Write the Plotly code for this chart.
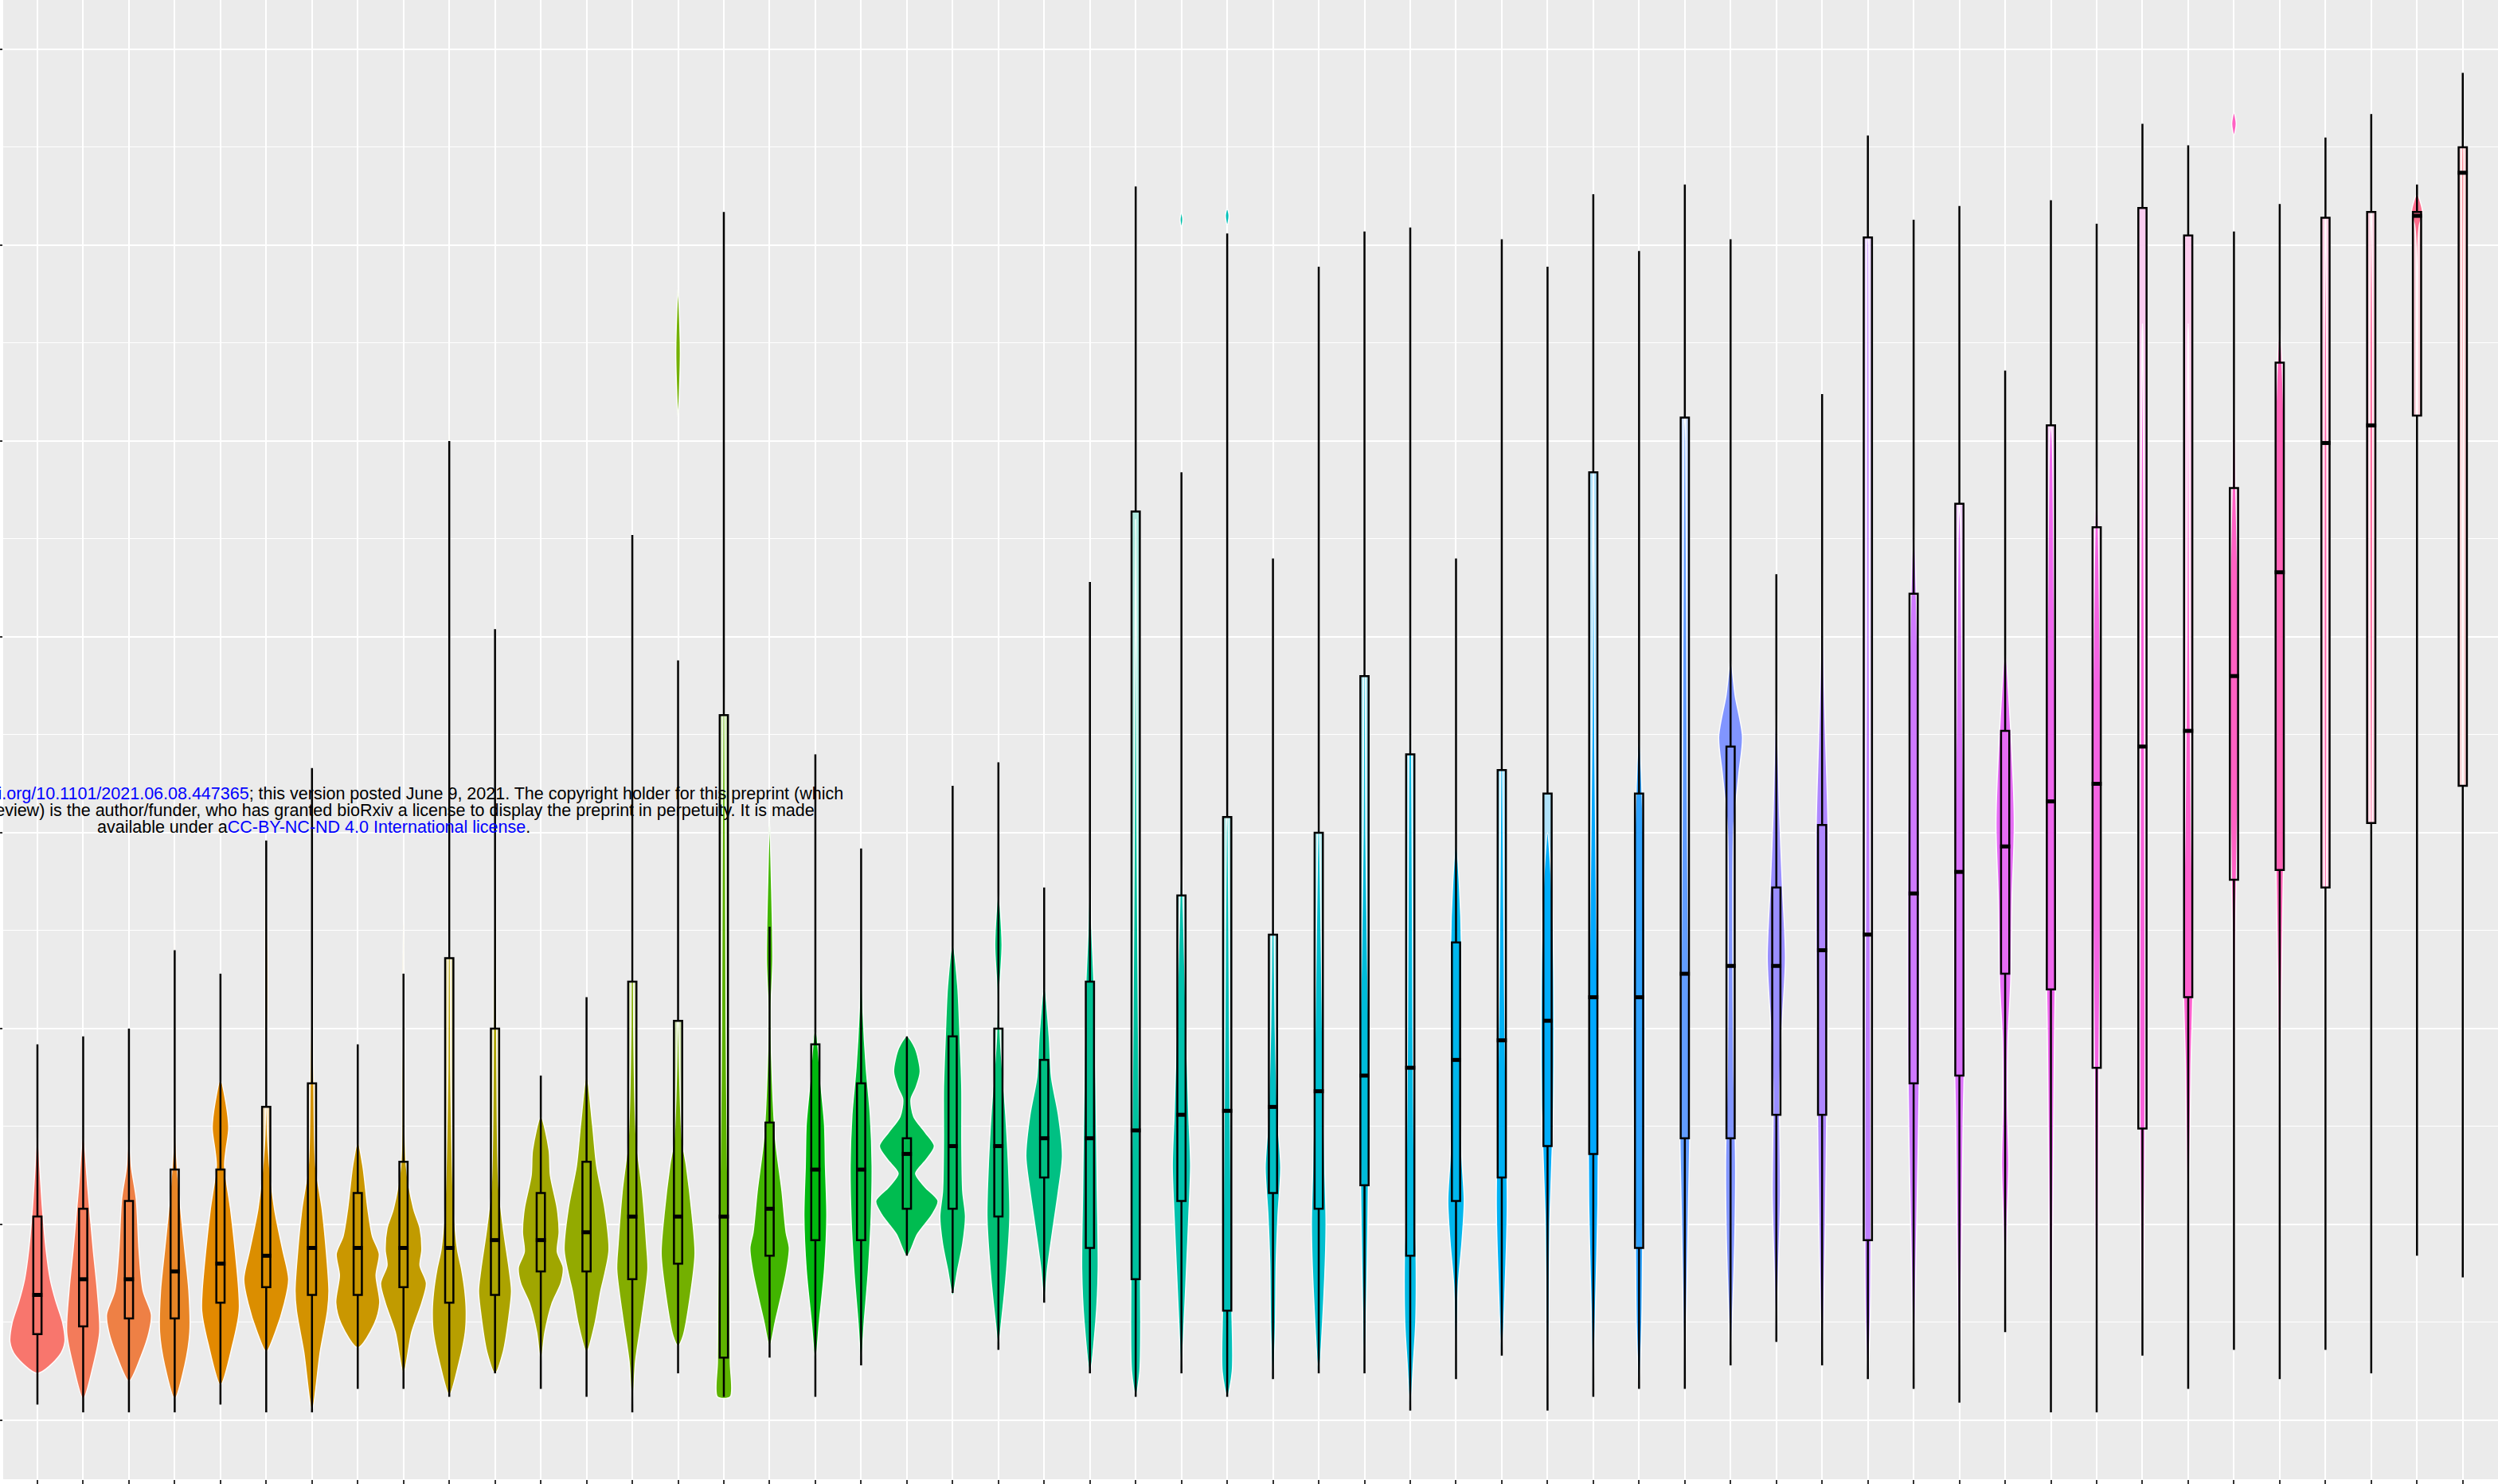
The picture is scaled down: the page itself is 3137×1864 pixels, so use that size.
import math
import plotly.graph_objects as go

# ---------------- data (major gridlines = 0..7) -------------
CATS = list(range(54))

upper_whisker = [1.92, 1.96, 2.00, 2.40, 2.28, 2.96, 3.33, 1.92, 2.28, 5.00,
                 4.04, 1.76, 2.16, 4.52, 3.88, 6.17, 2.52, 3.40, 2.92, 1.96,
                 3.24, 3.36, 2.72, 4.28, 6.30, 4.84, 6.06, 4.40, 5.89, 6.07,
                 6.09, 4.40, 6.03, 5.89, 6.26, 5.97, 6.31, 6.03, 4.32, 5.24,
                 6.56, 6.13, 6.20, 5.36, 6.23, 6.11, 6.62, 6.51, 6.07, 6.21,
                 6.55, 6.67, 6.31, 6.88]
q3 = [1.04, 1.08, 1.12, 1.28, 1.28, 1.60, 1.72, 1.16, 1.32, 2.36,
      2.00, 1.16, 1.32, 2.24, 2.04, 3.60, 1.52, 1.92, 1.72, 1.44,
      1.96, 2.00, 1.84, 2.24, 4.64, 2.68, 3.08, 2.48, 3.00, 3.80,
      3.40, 2.44, 3.32, 3.20, 4.84, 3.20, 5.12, 3.44, 2.72, 3.04,
      6.04, 4.22, 4.68, 3.52, 5.08, 4.56, 6.19, 6.05, 4.76, 5.40,
      6.14, 6.17, 6.17, 6.50]
median = [0.64, 0.72, 0.72, 0.76, 0.80, 0.84, 0.88, 0.88, 0.88, 0.88,
          0.92, 0.92, 0.96, 1.04, 1.04, 1.04, 1.08, 1.28, 1.28, 1.36,
          1.40, 1.40, 1.44, 1.44, 1.48, 1.56, 1.58, 1.60, 1.68, 1.76,
          1.80, 1.84, 1.94, 2.04, 2.16, 2.16, 2.28, 2.32, 2.32, 2.40,
          2.48, 2.69, 2.80, 2.93, 3.16, 3.25, 3.44, 3.52, 3.80, 4.33,
          4.99, 5.08, 6.15, 6.37]
q1 = [0.44, 0.48, 0.52, 0.52, 0.60, 0.68, 0.64, 0.64, 0.68, 0.60,
      0.64, 0.76, 0.76, 0.72, 0.80, 0.32, 0.84, 0.92, 0.92, 1.08,
      1.08, 1.04, 1.24, 0.88, 0.72, 1.12, 0.56, 1.16, 1.08, 1.20,
      0.84, 1.12, 1.24, 1.40, 1.36, 0.88, 1.44, 1.44, 1.56, 1.56,
      0.92, 1.72, 1.76, 2.28, 2.20, 1.80, 1.49, 2.16, 2.76, 2.81,
      2.72, 3.05, 5.13, 3.24]
lower_whisker = [0.08, 0.04, 0.04, 0.04, 0.08, 0.04, 0.04, 0.16, 0.16, 0.12,
                 0.24, 0.16, 0.12, 0.04, 0.24, 0.12, 0.32, 0.12, 0.28, 0.84,
                 0.65, 0.36, 0.60, 0.24, 0.12, 0.24, 0.12, 0.21, 0.24, 0.24,
                 0.05, 0.21, 0.33, 0.05, 0.12, 0.16, 0.16, 0.28, 0.40, 0.28,
                 0.21, 0.16, 0.09, 0.45, 0.04, 0.04, 0.33, 0.16, 0.36, 0.21,
                 0.36, 0.24, 0.84, 0.73]

# violin density profiles: per group, list of pieces; each piece = (value, half-width) top -> bottom
violin_profiles = [
    [[(1.51, 0), (1.30, 0.05), (1.08, 0.11), (0.87, 0.19), (0.72, 0.28), (0.61, 0.40), (0.50, 0.55), (0.40, 0.60), (0.33, 0.48), (0.24, 0)]],
    [[(1.46, 0), (1.19, 0.10), (0.87, 0.22), (0.66, 0.31), (0.45, 0.36), (0.28, 0.22), (0.11, 0)]],
    [[(1.53, 0), (1.30, 0.05), (1.13, 0.16), (0.87, 0.22), (0.66, 0.31), (0.54, 0.49), (0.45, 0.44), (0.33, 0.27), (0.20, 0)]],
    [[(2.55, 0), (2.20, 0.01), (1.40, 0.03), (1.08, 0.13), (0.87, 0.22), (0.66, 0.31), (0.45, 0.33), (0.28, 0.22), (0.11, 0)]],
    [[(1.74, 0), (1.62, 0.12), (1.49, 0.18), (1.38, 0.12), (1.30, 0.09), (1.08, 0.22), (0.87, 0.32), (0.66, 0.40), (0.56, 0.41), (0.39, 0.27), (0.18, 0)]],
    [[(2.95, 0), (2.40, 0.03), (2.10, 0.03), (1.70, 0.01), (1.40, 0.04), (1.08, 0.18), (0.87, 0.36), (0.72, 0.49), (0.60, 0.40), (0.45, 0.20), (0.35, 0)]],
    [[(2.50, 0), (1.72, 0.04), (1.30, 0.08), (1.08, 0.22), (0.87, 0.31), (0.66, 0.37), (0.56, 0.34), (0.35, 0.18), (0.05, 0)]],
    [[(1.42, 0), (1.30, 0.11), (1.08, 0.22), (0.94, 0.32), (0.85, 0.47), (0.74, 0.40), (0.60, 0.48), (0.49, 0.36), (0.37, 0)]],
    [[(2.56, 0), (1.80, 0.03), (1.30, 0.06), (1.08, 0.22), (0.98, 0.36), (0.87, 0.40), (0.79, 0.36), (0.70, 0.50), (0.60, 0.40), (0.45, 0.18), (0.24, 0)]],
    [[(5.10, 0), (3.00, 0.02), (1.80, 0.03), (1.08, 0.10), (0.87, 0.18), (0.77, 0.27), (0.66, 0.34), (0.56, 0.37), (0.45, 0.35), (0.30, 0.22), (0.13, 0)]],
    [[(4.05, 0), (2.80, 0.02), (1.80, 0.04), (1.20, 0.08), (0.98, 0.18), (0.77, 0.31), (0.66, 0.36), (0.56, 0.32), (0.35, 0.18), (0.24, 0)]],
    [[(1.55, 0), (1.38, 0.18), (1.25, 0.21), (1.08, 0.36), (0.96, 0.40), (0.86, 0.36), (0.78, 0.49), (0.70, 0.44), (0.60, 0.25), (0.45, 0.09), (0.30, 0)]],
    [[(1.76, 0), (1.51, 0.13), (1.30, 0.22), (1.08, 0.40), (0.87, 0.49), (0.75, 0.40), (0.66, 0.31), (0.49, 0.18), (0.35, 0)]],
    [[(4.50, 0), (3.00, 0.02), (2.00, 0.03), (1.43, 0.09), (1.17, 0.22), (0.90, 0.31), (0.77, 0.34), (0.51, 0.20), (0.30, 0.07), (0.06, 0)]],
    [[(5.78, 0), (5.45, 0.05), (5.12, 0)],
     [(2.20, 0), (1.80, 0.03), (1.43, 0.09), (1.30, 0.18), (1.04, 0.31), (0.85, 0.37), (0.64, 0.27), (0.43, 0.11), (0.38, 0)]],
    [[(3.80, 0), (3.60, 0.02), (2.00, 0.05), (1.30, 0.08), (0.80, 0.12), (0.30, 0.14), (0.12, 0.14)]],
    [[(3.06, 0), (2.75, 0.04), (2.35, 0.07), (2.10, 0.03), (1.80, 0.05), (1.43, 0.13), (1.17, 0.27), (0.96, 0.36), (0.88, 0.43), (0.75, 0.36), (0.51, 0.13), (0.38, 0)]],
    [[(2.01, 0), (1.69, 0.13), (1.51, 0.20), (1.30, 0.22), (1.04, 0.25), (0.77, 0.20), (0.51, 0.09), (0.30, 0)]],
    [[(2.43, 0), (2.09, 0.04), (1.80, 0.11), (1.56, 0.20), (1.30, 0.24), (1.04, 0.22), (0.77, 0.16), (0.51, 0.07), (0.30, 0)]],
    [[(1.96, 0), (1.90, 0.18), (1.78, 0.29), (1.70, 0.20), (1.64, 0.09), (1.55, 0.15), (1.47, 0.40), (1.40, 0.60), (1.33, 0.42), (1.26, 0.19), (1.19, 0.40), (1.12, 0.68), (1.05, 0.55), (0.95, 0.23), (0.84, 0)]],
    [[(2.43, 0), (2.22, 0.11), (1.96, 0.16), (1.69, 0.20), (1.43, 0.20), (1.17, 0.22), (1.04, 0.28), (0.90, 0.22), (0.77, 0.11), (0.64, 0)]],
    [[(2.70, 0), (2.43, 0.08), (2.20, 0.03), (1.96, 0.04), (1.56, 0.16), (1.30, 0.22), (1.04, 0.25), (0.77, 0.18), (0.51, 0.07), (0.38, 0)]],
    [[(2.22, 0), (1.96, 0.11), (1.75, 0.16), (1.56, 0.31), (1.35, 0.40), (1.17, 0.31), (0.96, 0.18), (0.77, 0.07), (0.60, 0)]],
    [[(2.88, 0), (2.50, 0.04), (2.22, 0.09), (1.69, 0.13), (1.17, 0.16), (0.77, 0.18), (0.51, 0.13), (0.25, 0)]],
    [[(4.60, 0), (3.00, 0.03), (2.00, 0.06), (1.20, 0.09), (0.50, 0.11), (0.25, 0.09), (0.12, 0)]],
    [[(6.17, 0), (6.13, 0.03), (6.09, 0)],
     [(2.93, 0), (2.60, 0.04), (1.96, 0.11), (1.56, 0.16), (1.30, 0.20), (1.04, 0.16), (0.77, 0.11), (0.51, 0.06), (0.24, 0)]],
    [[(6.19, 0), (6.15, 0.04), (6.10, 0)],
     [(3.20, 0), (3.00, 0.02), (2.00, 0.05), (1.20, 0.08), (0.60, 0.10), (0.25, 0.11), (0.12, 0)]],
    [[(3.10, 0), (2.60, 0.02), (2.00, 0.05), (1.51, 0.11), (1.29, 0.17), (1.05, 0.11), (0.80, 0.07), (0.45, 0.05), (0.21, 0)]],
    [[(3.20, 0), (3.00, 0.02), (2.00, 0.08), (1.30, 0.13), (1.00, 0.16), (0.62, 0.11), (0.24, 0)]],
    [[(5.00, 0), (3.00, 0.03), (2.30, 0.07), (1.80, 0.11), (1.30, 0.09), (0.80, 0.06), (0.24, 0)]],
    [[(4.50, 0), (3.00, 0.04), (2.00, 0.06), (1.20, 0.09), (0.80, 0.13), (0.50, 0.12), (0.30, 0.07), (0.05, 0)]],
    [[(2.95, 0), (2.75, 0.07), (2.39, 0.12), (2.04, 0.10), (1.68, 0.09), (1.33, 0.13), (1.12, 0.18), (0.91, 0.13), (0.69, 0.05), (0.21, 0)]],
    [[(4.00, 0), (3.00, 0.03), (2.20, 0.06), (1.50, 0.10), (1.10, 0.12), (0.80, 0.09), (0.33, 0)]],
    [[(3.00, 0), (2.85, 0.06), (2.50, 0.12), (2.00, 0.14), (1.60, 0.13), (1.30, 0.09), (1.00, 0.05), (0.50, 0.03), (0.05, 0)]],
    [[(5.00, 0), (3.50, 0.03), (2.40, 0.08), (1.60, 0.11), (1.10, 0.10), (0.60, 0.05), (0.12, 0)]],
    [[(3.50, 0), (3.10, 0.08), (2.60, 0.12), (2.00, 0.13), (1.40, 0.12), (0.90, 0.08), (0.50, 0.06), (0.16, 0)]],
    [[(5.20, 0), (5.00, 0.02), (3.00, 0.06), (2.00, 0.09), (1.50, 0.11), (1.10, 0.08), (0.60, 0.04), (0.16, 0)]],
    [[(3.88, 0), (3.70, 0.10), (3.49, 0.26), (3.30, 0.18), (3.03, 0.07), (2.50, 0.05), (1.80, 0.07), (1.30, 0.11), (0.90, 0.09), (0.60, 0.05), (0.28, 0)]],
    [[(3.70, 0), (3.10, 0.07), (2.74, 0.13), (2.36, 0.20), (2.04, 0.13), (1.68, 0.07), (1.15, 0.09), (0.80, 0.05), (0.40, 0)]],
    [[(4.44, 0), (3.80, 0.04), (3.45, 0.08), (3.03, 0.13), (2.40, 0.13), (1.56, 0.10), (1.00, 0.07), (0.28, 0)]],
    [[(6.10, 0), (6.00, 0.02), (4.00, 0.03), (2.00, 0.06), (1.00, 0.07), (0.50, 0.05), (0.21, 0)]],
    [[(4.60, 0), (4.20, 0.06), (3.50, 0.11), (2.70, 0.13), (1.90, 0.13), (1.40, 0.10), (0.80, 0.05), (0.16, 0)]],
    [[(4.70, 0), (4.50, 0.03), (3.50, 0.07), (2.80, 0.11), (2.00, 0.12), (1.50, 0.08), (0.90, 0.05), (0.09, 0)]],
    [[(3.92, 0), (3.53, 0.12), (3.05, 0.20), (2.66, 0.15), (2.23, 0.12), (1.94, 0.06), (1.60, 0.05), (1.31, 0.08), (1.00, 0.04), (0.45, 0)]],
    [[(5.10, 0), (5.00, 0.03), (4.20, 0.07), (3.40, 0.10), (2.60, 0.12), (2.00, 0.08), (1.00, 0.04), (0.04, 0)]],
    [[(4.90, 0), (4.80, 0.02), (4.00, 0.07), (3.30, 0.10), (2.50, 0.08), (1.80, 0.05), (0.80, 0.03), (0.04, 0)]],
    [[(5.60, 0), (5.50, 0.01), (4.00, 0.04), (3.00, 0.05), (2.00, 0.06), (1.30, 0.05), (0.33, 0)]],
    [[(5.60, 0), (5.50, 0.01), (4.00, 0.03), (3.00, 0.07), (2.30, 0.11), (1.80, 0.06), (1.00, 0.02), (0.16, 0)]],
    [[(6.68, 0), (6.62, 0.05), (6.56, 0)],
     [(5.50, 0), (4.76, 0.04), (4.20, 0.09), (3.60, 0.10), (3.00, 0.07), (2.40, 0.03), (1.00, 0.02), (0.36, 0)]],
    [[(5.60, 0), (5.20, 0.08), (4.50, 0.11), (3.50, 0.11), (2.80, 0.08), (2.20, 0.04), (1.00, 0.01), (0.21, 0)]],
    [[(6.20, 0), (6.10, 0.01), (5.00, 0.03), (3.50, 0.03), (2.50, 0.02), (0.36, 0)]],
    [[(6.30, 0), (6.20, 0.01), (5.50, 0.03), (4.00, 0.03), (3.00, 0.02), (0.24, 0)]],
    [[(6.26, 0), (6.17, 0.12), (6.10, 0.05), (6.00, 0.02), (5.50, 0.01), (0.84, 0)]],
    [[(6.60, 0), (6.50, 0.02), (6.00, 0.02), (4.00, 0.01), (0.73, 0)]],
]

Y_MAJOR = [0, 1, 2, 3, 4, 5, 6, 7]
Y_MINOR = [0.5, 1.5, 2.5, 3.5, 4.5, 5.5, 6.5]

TEXT_LINE1 = ("bioRxiv preprint doi: <span style='color:#0000FF'>https://doi.org/10.1101/2021.06.08.447365</span>; "
              "this version posted June 9, 2021. The copyright holder for this preprint (which")
TEXT_LINE2 = ("was not certified by peer review) is the author/funder, who has granted bioRxiv a license "
              "to display the preprint in perpetuity. It is made")
TEXT_LINE3 = "available under a<span style='color:#0000FF'>CC-BY-NC-ND 4.0 International license</span>."


# ---------------- ggplot2 default hue palette ----------------
def hcl_hex(h, c=100.0, l=65.0):
    Xn, Yn, Zn = 95.047, 100.0, 108.883
    hr = math.radians(h)
    U, V = c * math.cos(hr), c * math.sin(hr)
    Y = Yn * ((l + 16) / 116) ** 3 if l > 8 else Yn * l / 903.3
    den = Xn + 15 * Yn + 3 * Zn
    un, vn = 4 * Xn / den, 9 * Yn / den
    u, v = U / (13 * l) + un, V / (13 * l) + vn
    X = 9.0 * Y * u / (4 * v)
    Z = -X / 3 - 5 * Y + 3 * Y / v
    X, Y, Z = X / 100, Y / 100, Z / 100
    rgb = [3.240479 * X - 1.537150 * Y - 0.498535 * Z,
           -0.969256 * X + 1.875992 * Y + 0.041556 * Z,
           0.055648 * X - 0.204043 * Y + 1.057311 * Z]
    out = []
    for t in rgb:
        t = 1.055 * t ** (1 / 2.4) - 0.055 if t > 0.0031308 else 12.92 * t
        out.append(int(round(min(1, max(0, t)) * 255)))
    return out


n = len(CATS)
hues = [15 + 360 * k / n for k in range(n)]
rgbs = [hcl_hex(h) for h in hues]
colors = ["rgb(%d,%d,%d)" % tuple(c) for c in rgbs]
box_fills = ["rgb(%d,%d,%d)" % tuple(int(0.30 * ch + 0.70 * 250) for ch in c) for c in rgbs]

BOX_W = 0.18

fig = go.Figure()

# box fills (below the violins)
fig.add_trace(go.Bar(
    x=CATS, y=[a - b for a, b in zip(q3, q1)], base=q1, width=BOX_W,
    marker=dict(color=box_fills, line=dict(width=0)),
    hoverinfo="skip", showlegend=False, xaxis="x", yaxis="y"))

# violins
for i, pieces in enumerate(violin_profiles):
    xs, ys = [], []
    for piece in pieces:
        right = [(i + hw, v) for v, hw in piece]
        left = [(i - hw, v) for v, hw in reversed(piece)]
        if piece[-1][1] == 0:
            left = left[1:]
        if piece[0][1] == 0:
            left = left[:-1]
        pts = right + left + [right[0]]
        xs += [p[0] for p in pts] + [None]
        ys += [p[1] for p in pts] + [None]
    fig.add_trace(go.Scatter(
        x=xs, y=ys, mode="lines", fill="toself", fillcolor=colors[i],
        line=dict(color="rgba(255,255,255,0.95)", width=1.5, shape="spline", smoothing=0.8),
        hoverinfo="skip", showlegend=False, xaxis="x", yaxis="y"))

# box outlines + whiskers on an overlaid axis pair (drawn above violins)
fig.add_trace(go.Box(
    x=CATS, q1=q1, median=median, q3=q3, lowerfence=lower_whisker, upperfence=upper_whisker,
    width=BOX_W, fillcolor="rgba(0,0,0,0)", line=dict(color="black", width=2.5),
    whiskerwidth=0, boxpoints=False, hoverinfo="skip", showlegend=False,
    xaxis="x2", yaxis="y2"))

mx, my = [], []
for i, m in zip(CATS, median):
    mx += [i - BOX_W / 2 - 0.02, i + BOX_W / 2 + 0.02, None]
    my += [m, m, None]
fig.add_trace(go.Scatter(x=mx, y=my, mode="lines", line=dict(color="black", width=5),
                         hoverinfo="skip", showlegend=False, xaxis="x2", yaxis="y2"))

XR = [-0.748, 53.77]
YR = [-0.301, 7.252]

W, H = 3137, 1864
ML, MR, MT, MB = 4, 0, 0, 6
PW, PH = W - ML - MR, H - MT - MB

def px_x(p):
    return (p - ML) / PW

def px_y(p):
    return 1 - (p - MT) / PH

annots = [
    dict(text=TEXT_LINE1, x=px_x(1060), y=px_y(997), xanchor="right"),
    dict(text=TEXT_LINE2, x=px_x(1024), y=px_y(1018), xanchor="right"),
    dict(text=TEXT_LINE3, x=px_x(121), y=px_y(1039), xanchor="left"),
]
for a in annots:
    a.update(xref="paper", yref="paper", yanchor="middle", showarrow=False, borderpad=0,
             font=dict(family="Liberation Sans, Arial, sans-serif", size=21.5, color="black"))

fig.update_layout(
    width=W, height=H,
    margin=dict(l=ML, r=MR, t=MT, b=MB, pad=0),
    paper_bgcolor="white", plot_bgcolor="#EBEBEB",
    barmode="overlay", showlegend=False,
    annotations=annots,
    xaxis=dict(range=XR, tickmode="array", tickvals=CATS, showticklabels=False,
               ticks="outside", ticklen=6, tickwidth=2, tickcolor="#333333",
               showgrid=True, gridcolor="white", gridwidth=2,
               zeroline=False, showline=False, automargin=False, fixedrange=True),
    yaxis=dict(range=YR, tickmode="array", tickvals=Y_MAJOR, showticklabels=False,
               ticks="outside", ticklen=4, tickwidth=2, tickcolor="#333333",
               showgrid=True, gridcolor="white", gridwidth=2,
               minor=dict(tickmode="array", tickvals=Y_MINOR, showgrid=True,
                          gridcolor="white", gridwidth=1, ticks=""),
               zeroline=False, showline=False, automargin=False, fixedrange=True),
    xaxis2=dict(overlaying="x", matches="x", anchor="y2", range=XR, visible=False),
    yaxis2=dict(overlaying="y", matches="y", anchor="x2", range=YR, visible=False),
)

fig.write_html("out.html", config={"displayModeBar": False},
               post_script="document.body.style.margin='0px';document.body.style.overflow='hidden';")
